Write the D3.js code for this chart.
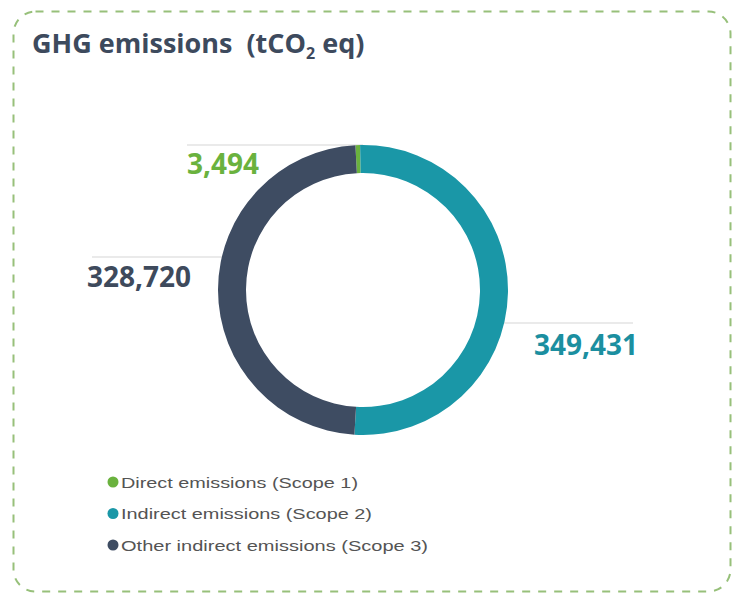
<!DOCTYPE html>
<html>
<head>
<meta charset="utf-8">
<script src="https://cdn.jsdelivr.net/npm/d3@7"></script>
<style>
  html, body { margin: 0; padding: 0; background: #ffffff; }
  svg { display: block; }
  text { white-space: pre; }
</style>
</head>
<body>
<svg id="chart" width="734" height="596"></svg>
<script>
// GHG emissions by scope, tonnes CO2 equivalent
const categories = ["Direct emissions (Scope 1)", "Indirect emissions (Scope 2)", "Other indirect emissions (Scope 3)"];
const values = [3494, 349431, 328720];
const valueLabels = ["3,494", "349,431", "328,720"];
const colors = ["#6ab23e", "#1a97a7", "#3e4c62"];
const labelColors = ["#6ab23e", "#1b8fa0", "#3e4a5c"];

const svg = d3.select("#chart");

// dashed rounded frame
svg.append("rect")
  .attr("x", 13.5).attr("y", 11.5)
  .attr("width", 717).attr("height", 580)
  .attr("rx", 22).attr("ry", 22)
  .attr("fill", "none")
  .attr("stroke", "#97c07a")
  .attr("stroke-width", 2)
  .attr("stroke-dasharray", "8 8");

// title
const title = svg.append("text")
  .attr("x", 32).attr("y", 53)
  .attr("font-family", "'Open Sans', sans-serif")
  .attr("font-weight", 700)
  .attr("font-size", 27)
  .attr("fill", "#3d4a5d");
title.append("tspan").text("GHG emissions  (tCO");
title.append("tspan").attr("font-size", 16).attr("dy", 6).text("2");
title.append("tspan").attr("dy", -6).text(" eq)");

// donut
const cx = 363, cy = 290;
const outerR = 145, innerR = 117;
const deg = Math.PI / 180;

const pie = d3.pie()
  .sort(null)
  .value(d => d)
  .startAngle(-3 * deg)
  .endAngle(357 * deg);

const arc = d3.arc().innerRadius(innerR).outerRadius(outerR);
const arcs = pie(values);

const g = svg.append("g").attr("transform", `translate(${cx},${cy})`);
g.selectAll("path")
  .data(arcs)
  .join("path")
  .attr("d", arc)
  .attr("fill", (d, i) => colors[i]);

// value labels with leader lines; each line runs from the label to the ring edge
const labelSpec = [
  { idx: 0, lineY: 145, lineX: 187, side: "left",  textX: 187, textY: 174 },
  { idx: 2, lineY: 257, lineX: 92,  side: "left",  textX: 87,  textY: 287 },
  { idx: 1, lineY: 323, lineX: 633, side: "right", textX: 638, textY: 355 }
];

labelSpec.forEach(s => {
  const dy = s.lineY - cy;
  const half = Math.sqrt(Math.max(0, outerR * outerR - dy * dy));
  const edgeX = s.side === "left" ? cx - half : cx + half;
  const x1 = s.side === "left" ? s.lineX : edgeX;
  const x2 = s.side === "left" ? edgeX : s.lineX;
  svg.insert("line", "g")
    .attr("x1", x1).attr("x2", x2)
    .attr("y1", s.lineY).attr("y2", s.lineY)
    .attr("stroke", "#d6d6d6")
    .attr("stroke-width", 1.2);
  svg.append("text")
    .attr("x", s.textX).attr("y", s.textY)
    .attr("text-anchor", s.side === "left" ? "start" : "end")
    .attr("font-family", "'Open Sans', sans-serif")
    .attr("font-weight", 700)
    .attr("font-size", 28)
    .attr("fill", labelColors[s.idx])
    .text(valueLabels[s.idx]);
});

// legend
const legendWidths = [237, 251, 307];
const legend = svg.append("g");
categories.forEach((c, i) => {
  const y = 482 + i * 31.5;
  legend.append("circle")
    .attr("cx", 113).attr("cy", y)
    .attr("r", 5.5)
    .attr("fill", colors[i]);
  legend.append("text")
    .attr("x", 121).attr("y", y + 5.5)
    .attr("font-family", "'Liberation Sans', Arial, sans-serif")
    .attr("font-size", 15.5)
    .attr("fill", "#545454")
    .attr("textLength", legendWidths[i])
    .attr("lengthAdjust", "spacingAndGlyphs")
    .text(c);
});
</script>
</body>
</html>
